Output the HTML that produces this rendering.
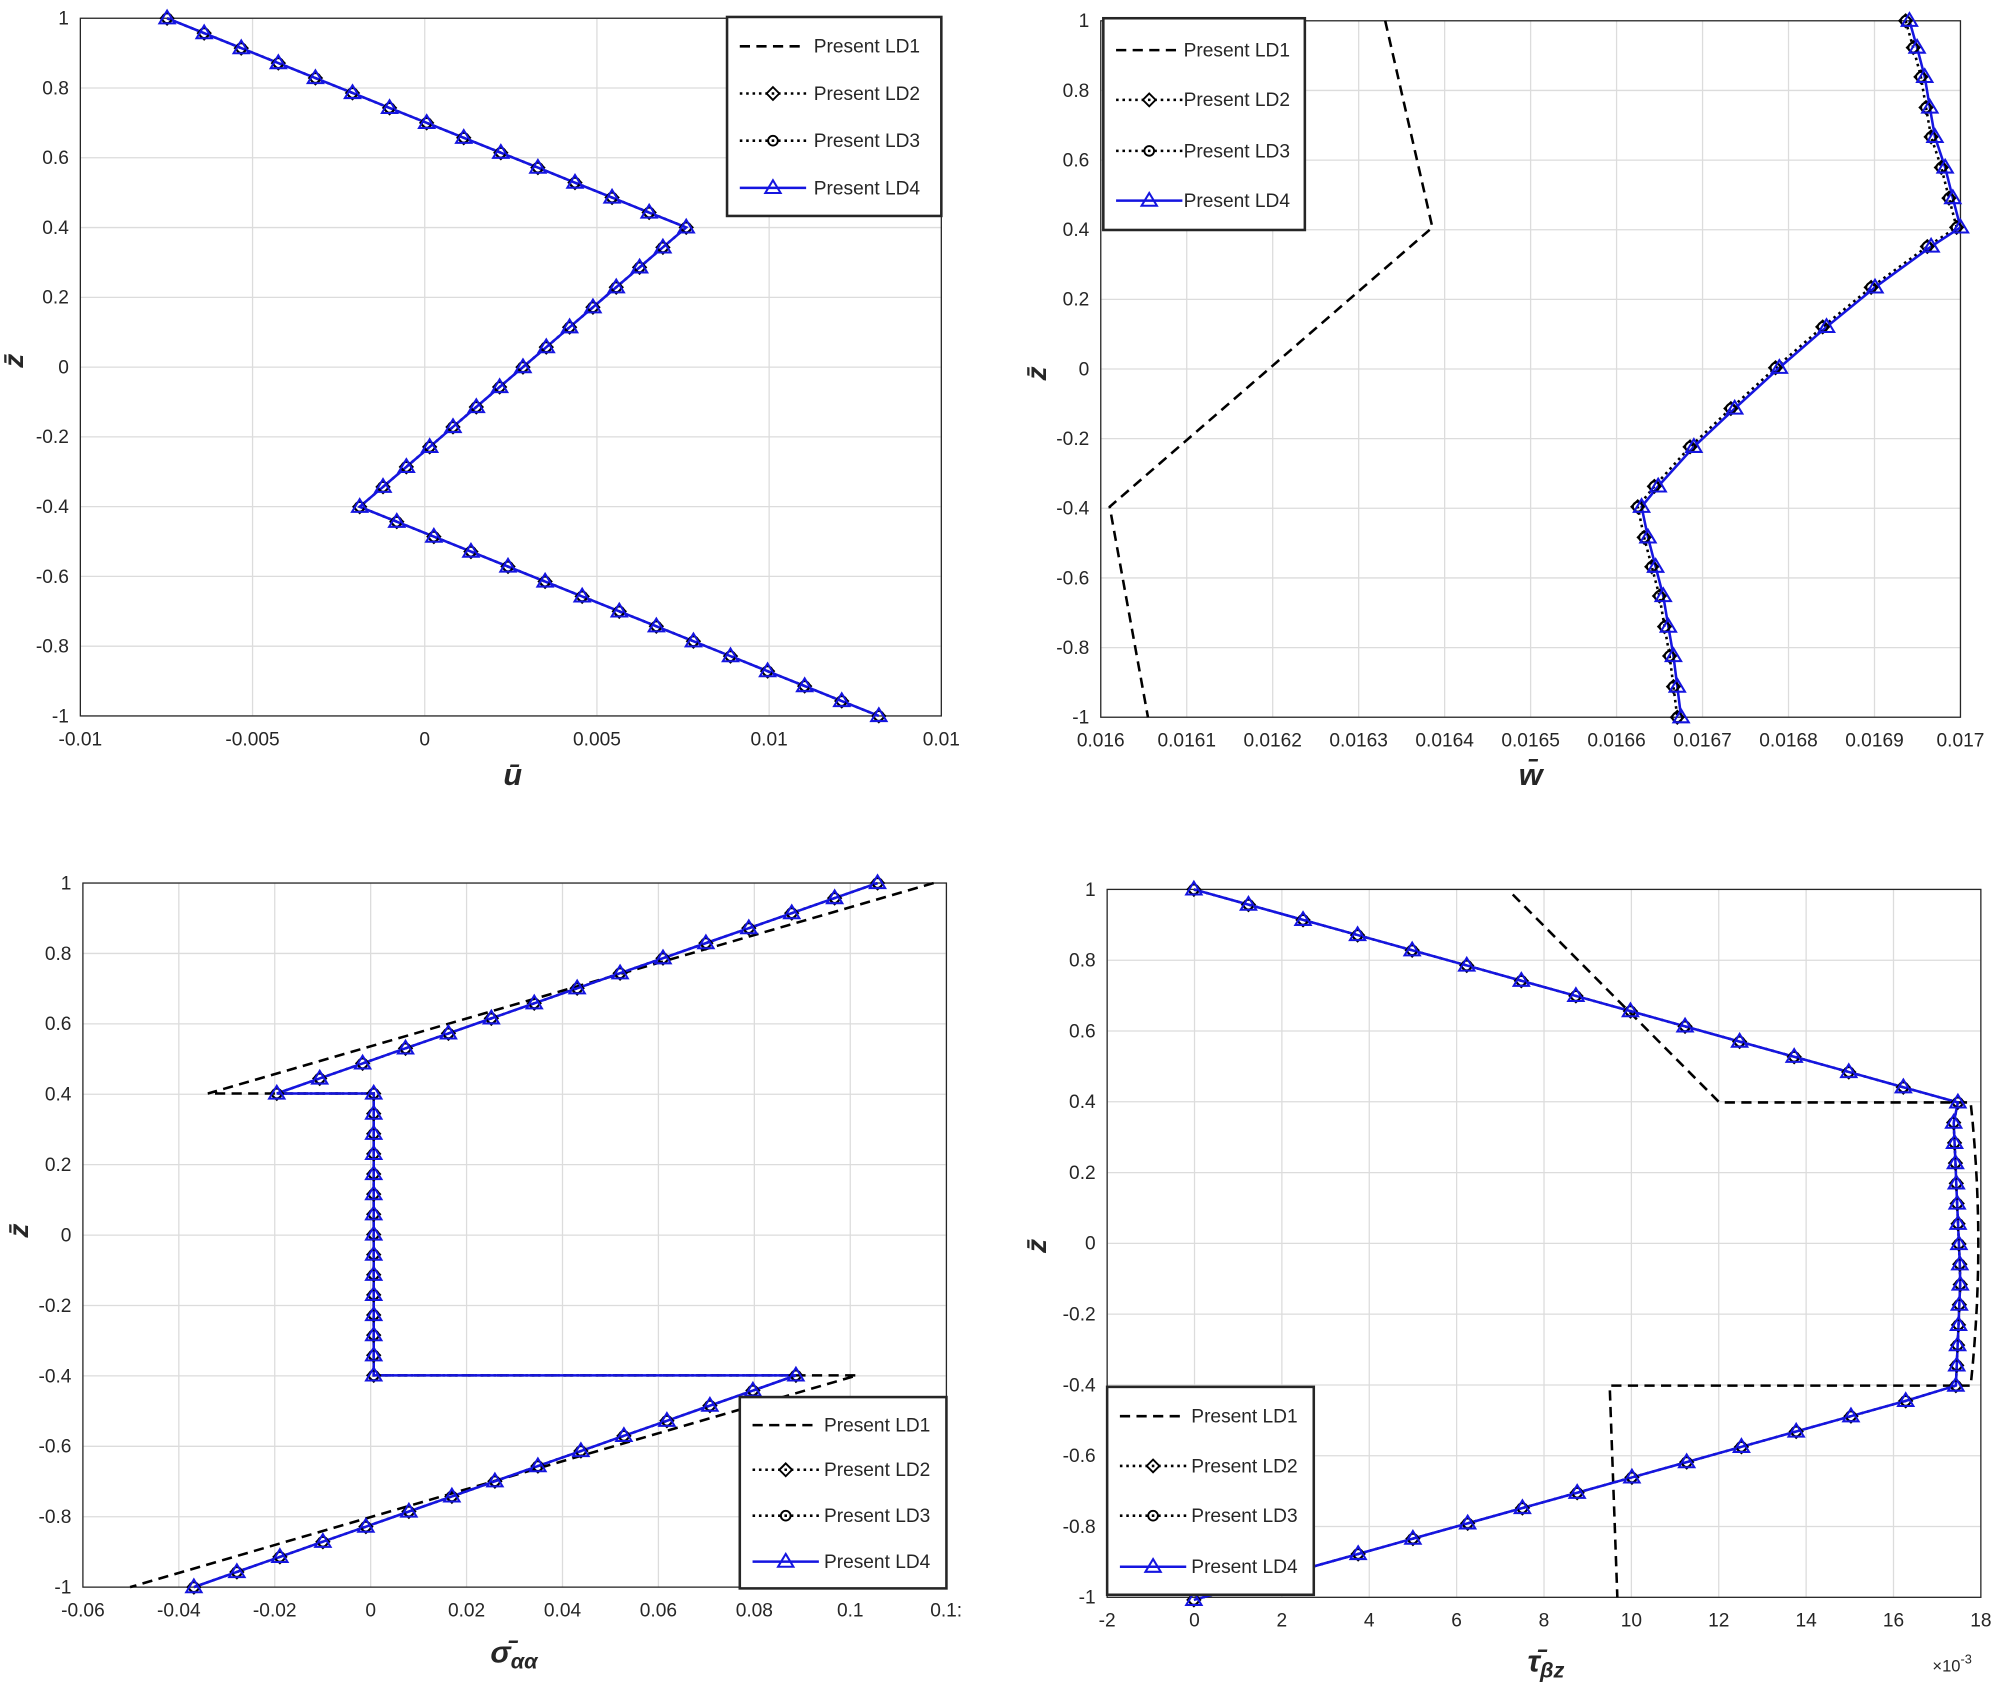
<!DOCTYPE html>
<html><head><meta charset="utf-8"><style>
html,body{margin:0;padding:0;background:#fff}
svg{display:block}
text{font-family:"Liberation Sans",sans-serif;fill:#262626}
</style></head><body>
<svg id="s" width="2000" height="1687" viewBox="0 0 1568 1322" xmlns="http://www.w3.org/2000/svg"></svg>
<script>
const S=document.getElementById('s');let h='';
function ln(pts,st){h+=`<polyline fill="none" points="${pts.map(p=>p[0].toFixed(1)+','+p[1].toFixed(1)).join(' ')}" ${st}/>`;}
function mk(pts,type){for(const [x,y] of pts){
 if(type=='d')h+=`<polygon points="${x},${y-5} ${x+5},${y} ${x},${y+5} ${x-5},${y}" fill="none" stroke="#000" stroke-width="1.5"/>`;
 if(type=='c')h+=`<circle cx="${x}" cy="${y}" r="3.8" fill="none" stroke="#000" stroke-width="1.5"/>`;
 if(type=='t')h+=`<polygon points="${x},${y-6} ${x+6},${y+4} ${x-6},${y+4}" fill="none" stroke="#1515e0" stroke-width="1.6"/>`;}}
function axes(x0,x1,y0,y1,xt,xl,yt,yl){
 for(const x of xt)h+=`<line x1="${x}" y1="${y0}" x2="${x}" y2="${y1}" stroke="#dcdcdc"/>`;
 for(const y of yt)h+=`<line x1="${x0}" y1="${y}" x2="${x1}" y2="${y}" stroke="#dcdcdc"/>`;
 h+=`<rect x="${x0}" y="${y0}" width="${x1-x0}" height="${y1-y0}" fill="none" stroke="#262626" stroke-width="1"/>`;
 xt.forEach((x,i)=>h+=`<text x="${x}" y="${y1+23}" font-size="15" text-anchor="middle">${xl[i]}</text>`);
 yt.forEach((y,i)=>h+=`<text x="${x0-9}" y="${y+5}" font-size="15" text-anchor="end">${yl[i]}</text>`);}
const yl=['1','0.8','0.6','0.4','0.2','0','-0.2','-0.4','-0.6','-0.8','-1'];
function yts(a,b){let r=[];for(let i=0;i<=10;i++)r.push(a+(b-a)*i/10);return r;}
function lerp(a,b,n){let r=[];for(let i=0;i<=n;i++)r.push([a[0]+(b[0]-a[0])*i/n,a[1]+(b[1]-a[1])*i/n]);return r;}
function legend(x,y,w,hh,ys,tx){
 h+=`<rect x="${x}" y="${y}" width="${w}" height="${hh}" fill="#fff" stroke="#262626" stroke-width="2"/>`;
 const n=['Present LD1','Present LD2','Present LD3','Present LD4'];
 ys.forEach((yy,i)=>{const a=x+10,b=x+62,m=(a+b)/2;
  if(i==0)h+=`<line x1="${a}" y1="${yy}" x2="${b}" y2="${yy}" stroke="#000" stroke-width="2" stroke-dasharray="8,5"/>`;
  if(i==1||i==2)h+=`<line x1="${a}" y1="${yy}" x2="${b}" y2="${yy}" stroke="#000" stroke-width="2" stroke-dasharray="2,3"/>`;
  if(i==3)h+=`<line x1="${a}" y1="${yy}" x2="${b}" y2="${yy}" stroke="#1515e0" stroke-width="2"/>`;
  if(i>0)mk([[m,yy]],'xdct'[i]);
  h+=`<text x="${x+tx}" y="${yy+5}" font-size="15">${n[i]}</text>`;});}
const BL='stroke="#1515e0" stroke-width="2"',DS='stroke="#000" stroke-width="2" stroke-dasharray="8,5"',DT='stroke="#000" stroke-width="2" stroke-dasharray="2,3"';
function all(pts,off){ln(pts.map(p=>[p[0]-off,p[1]]),DT);ln(pts,BL);mk(pts.map(p=>[p[0]-off,p[1]]),'d');mk(pts.map(p=>[p[0]-off,p[1]]),'c');mk(pts,'t');}
const LB='font-size="24" font-weight="bold" font-style="italic" font-family="Liberation Serif" text-anchor="middle"';
const ZB='font-size="22" font-weight="bold" font-style="italic" font-family="Liberation Serif"';
// Panel 1
axes(63,738,14,561,[63,198,333,468,603,738],['-0.01','-0.005','0','0.005','0.01','0.01'],yts(14,561),yl);
{let p=lerp([131,14],[538,178],14).concat(lerp([538,178],[282,397],14).slice(1),lerp([282,397],[689,561],14).slice(1));all(p,0);}
legend(570,13,168,156,[36,73,110,147],68);
h+=`<text x="402" y="615" ${LB}>ū</text>`;
h+=`<text x="18" y="288" ${ZB} transform="rotate(-90 18 288)">z̄</text>`;
// Panel 2
{let xt=[],xl=[];for(let i=0;i<=10;i++){xt.push(863+67.4*i);xl.push(i==0?'0.016':i==10?'0.017':'0.01'+(60+i));}
axes(863,1537,16,562,xt,xl,yts(16,562),yl);
ln([[1086,16],[1123,178],[870,397],[900,562]],DS);
const top=[[1497,16],[1503,37],[1509,60],[1513,84],[1517,107],[1525,131],[1531,155],[1537,178]];
const mid=[[1537,178],[1514,193],[1470,225],[1432,256],[1395,288],[1360,320],[1328,350],[1300,381],[1287,397]];
const bot=[[1287,397],[1292,421],[1298,444],[1304,467],[1308,491],[1312,514],[1315,538],[1318,562]];
const p=top.concat(mid.slice(1),bot.slice(1));all(p,3);
legend(865,14,158,166,[39,78,118,157],63);
h+=`<text x="1200" y="615" ${LB}>w̄</text>`;
h+=`<text x="820" y="298" ${ZB} transform="rotate(-90 820 298)">z̄</text>`;}
// Panel 3
{let xt=[],xl=['-0.06','-0.04','-0.02','0','0.02','0.04','0.06','0.08','0.1','0.1:'];for(let i=0;i<10;i++)xt.push(65+75.2*i);
axes(65,742,692,1244,xt,xl,yts(692,1244),yl);
ln([[732,692],[163,857],[293,857],[293,1078],[672,1078],[102,1244]],DS);
const t=lerp([688,692],[217,857],14),m=lerp([293,857],[293,1078],14),b=lerp([624,1078],[152,1244],14);
const p=t.concat([[293,857]],m.slice(1),[[624,1078]],b.slice(1));
ln(p,DT);ln(p,BL);const mp=t.concat(m,b);mk(mp,'d');mk(mp,'c');mk(mp,'t');
legend(580,1095,162,150,[1117,1152,1188,1224],66);
h+=`<text x="403" y="1303" ${LB}>σ̄<tspan font-size="17" dy="5">αα</tspan></text>`;
h+=`<text x="22" y="970" ${ZB} transform="rotate(-90 22 970)">z̄</text>`;}
// Panel 4
{let xt=[],xl=[];for(let i=0;i<=10;i++){xt.push(868+68.5*i);xl.push(String(-2+2*i));}
axes(868,1553,697,1252,xt,xl,yts(697,1252),yl);
let mc=[];for(let i=0;i<=14;i++){const z=0.4-0.8*i/14;mc.push([1545+6*(1-(z/0.4)**2),864+(1086-864)*i/14]);}
ln([[1186,701],[1348,864],[1545,864]].concat(mc,[[1262,1086],[1268,1252]]),DS);
const t=lerp([936,697],[1535,864],14);let m=[];for(let i=0;i<=14;i++){const z=0.4-0.8*i/14;m.push([1531+6*(1-Math.abs(z+0.1)/0.5),864+(1086-864)*i/14]);}
const b=lerp([1537,1086],[936,1254],14);
const p=t.concat(m.slice(1),b.slice(1));all(p,0);
legend(868,1087,162,163,[1110,1149,1188,1228],66);
h+=`<text x="1515" y="1310" font-size="13">×10<tspan font-size="10" dy="-6">-3</tspan></text>`;
h+=`<text x="1212" y="1310" ${LB}>τ̄<tspan font-size="17" dy="5">βz</tspan></text>`;
h+=`<text x="820" y="982" ${ZB} transform="rotate(-90 820 982)">z̄</text>`;}
S.innerHTML=h;
</script>
</body></html>
